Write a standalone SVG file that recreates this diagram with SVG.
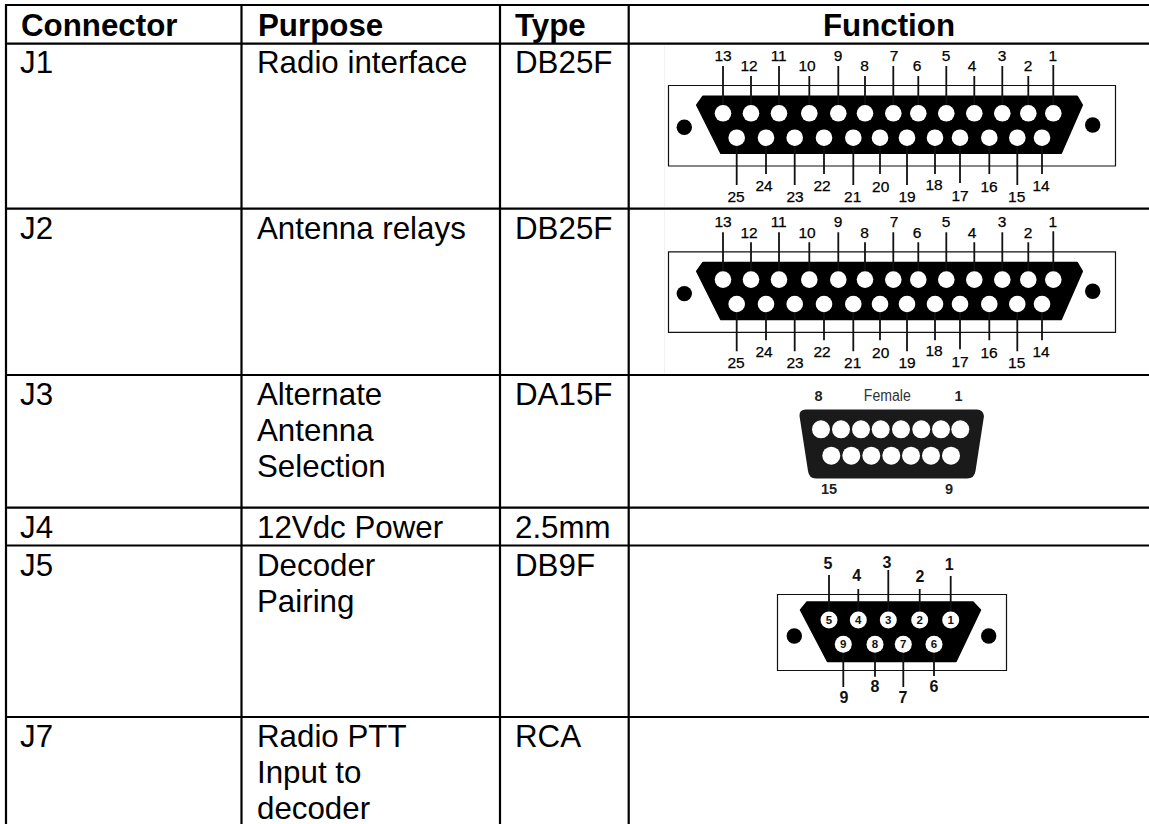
<svg xmlns="http://www.w3.org/2000/svg" width="1149" height="824" viewBox="0 0 1149 824">
<style>
text{font-family:"Liberation Sans",Arial,sans-serif;fill:#000}
.b{font-size:31.3px}
.h{font-size:31.3px;font-weight:700}
.n{font-size:15.5px;text-anchor:middle;stroke:#000;stroke-width:.25}
.m{font-size:16px;font-weight:700;text-anchor:middle;fill:#111}
.p{font-size:11.5px;font-weight:700;text-anchor:middle;fill:#111}
.f{font-size:14.5px;font-weight:700;text-anchor:middle;fill:#222}
.g{stroke:#000;stroke-width:2.2;fill:none}
.box{fill:none;stroke:#111;stroke-width:1.2}
.pl{stroke:#111;stroke-width:1.8;fill:none}
.w{fill:#fff}
.faint{stroke:#f2f2f2;stroke-width:1;fill:none}
</style>
<defs>
<g id="db25">
<path class="box" d="M668.5 85.5H1115.5V166H668.5Z"/>
<path d="M703 96.5H1077L1082 105L1061 153H721L697 105Z" fill="#000" stroke="#000" stroke-linejoin="round" stroke-width="2"/>
<circle cx="684.3" cy="127.3" r="7.7"/><circle cx="1092.7" cy="125" r="7.7"/>
<path class="pl" d="M723 66V105M751 76V105M779 66V105M809.3 76V105M838.3 66V105M865 76V105M893.3 66V105M918.3 76V105M946.3 66V105M974.3 76V105M1002.3 66V105M1028.3 76V105M1053.3 65V105M736.7 146V185M766 146V174M794.7 146V185M824 146V174M853.3 146V185M880 146V174M907 146V185M935 146V174M960 146V183M989.3 146V174M1017.3 146V185M1042 146V174"/>
<g class="w">
<circle cx="723" cy="113.3" r="8.3"/><circle cx="751" cy="113.3" r="8.3"/><circle cx="779" cy="113.3" r="8.3"/><circle cx="809.3" cy="113.3" r="8.3"/><circle cx="838.3" cy="113.3" r="8.3"/><circle cx="865" cy="113.3" r="8.3"/><circle cx="893.3" cy="113.3" r="8.3"/><circle cx="918.3" cy="113.3" r="8.3"/><circle cx="946.3" cy="113.3" r="8.3"/><circle cx="974.3" cy="113.3" r="8.3"/><circle cx="1002.3" cy="113.3" r="8.3"/><circle cx="1028.3" cy="113.3" r="8.3"/><circle cx="1053.3" cy="113.3" r="8.3"/>
<circle cx="736.7" cy="137.7" r="8.3"/><circle cx="766" cy="137.7" r="8.3"/><circle cx="794.7" cy="137.7" r="8.3"/><circle cx="824" cy="137.7" r="8.3"/><circle cx="853.3" cy="137.7" r="8.3"/><circle cx="880" cy="137.7" r="8.3"/><circle cx="907" cy="137.7" r="8.3"/><circle cx="935" cy="137.7" r="8.3"/><circle cx="960" cy="137.7" r="8.3"/><circle cx="989.3" cy="137.7" r="8.3"/><circle cx="1017.3" cy="137.7" r="8.3"/><circle cx="1042" cy="137.7" r="8.3"/>
</g>
</g>
</defs>

<g id="grid" class="g">
<path d="M6 4V824M241.5 4V824M500 4V824M628.7 4V824"/>
<path d="M5 5H1149M5 43.7H1149M5 208.7H1149M5 375H1149M5 507.7H1149M5 545.5H1149M5 717H1149"/>
</g>

<g id="header">
<text class="h" x="21" y="36">Connector</text>
<text class="h" x="258" y="36">Purpose</text>
<text class="h" x="515" y="36">Type</text>
<text class="h" x="889" y="36" text-anchor="middle">Function</text>
</g>

<g id="row-j1">
<text class="b" x="20" y="73">J1</text>
<text class="b" x="257" y="73">Radio interface</text>
<text class="b" x="515" y="73">DB25F</text>
</g>
<g id="row-j2">
<text class="b" x="20" y="239">J2</text>
<text class="b" x="257" y="239">Antenna relays</text>
<text class="b" x="515" y="239">DB25F</text>
</g>
<g id="row-j3">
<text class="b" x="20" y="405">J3</text>
<text class="b" x="257" y="405">Alternate</text>
<text class="b" x="257" y="441">Antenna</text>
<text class="b" x="257" y="477">Selection</text>
<text class="b" x="515" y="405">DA15F</text>
</g>
<g id="row-j4">
<text class="b" x="20" y="538">J4</text>
<text class="b" x="257" y="538">12Vdc Power</text>
<text class="b" x="515" y="538">2.5mm</text>
</g>
<g id="row-j5">
<text class="b" x="20" y="576">J5</text>
<text class="b" x="257" y="576">Decoder</text>
<text class="b" x="257" y="612">Pairing</text>
<text class="b" x="515" y="576">DB9F</text>
</g>
<g id="row-j7">
<text class="b" x="20" y="747">J7</text>
<text class="b" x="257" y="747">Radio PTT</text>
<text class="b" x="257" y="783">Input to</text>
<text class="b" x="257" y="819">decoder</text>
<text class="b" x="515" y="747">RCA</text>
</g>

<g id="j1-connector">
<path class="faint" d="M664.5 45V207"/>
<use href="#db25"/>
<text class="n" x="723" y="60.7">13</text><text class="n" x="749" y="71.3">12</text><text class="n" x="778.7" y="60.7">11</text><text class="n" x="807" y="71.3">10</text><text class="n" x="838" y="60.7">9</text><text class="n" x="864.5" y="71.3">8</text><text class="n" x="894" y="60.7">7</text><text class="n" x="917" y="71.3">6</text><text class="n" x="946" y="60.7">5</text><text class="n" x="972" y="71.3">4</text><text class="n" x="1002" y="60.7">3</text><text class="n" x="1028" y="71.3">2</text><text class="n" x="1052.7" y="60.7">1</text>
<text class="n" x="736" y="202">25</text><text class="n" x="764" y="191">24</text><text class="n" x="795" y="202">23</text><text class="n" x="822" y="191">22</text><text class="n" x="852.7" y="202">21</text><text class="n" x="880.7" y="192">20</text><text class="n" x="907" y="202">19</text><text class="n" x="934" y="190">18</text><text class="n" x="960" y="201">17</text><text class="n" x="989" y="192">16</text><text class="n" x="1016.7" y="202">15</text><text class="n" x="1041" y="191">14</text>
</g>

<g id="j2-connector" transform="translate(0 166.3)">
<path class="faint" d="M664.5 44V207"/>
<use href="#db25"/>
<text class="n" x="723" y="60.7">13</text><text class="n" x="749" y="71.3">12</text><text class="n" x="778.7" y="60.7">11</text><text class="n" x="807" y="71.3">10</text><text class="n" x="838" y="60.7">9</text><text class="n" x="864.5" y="71.3">8</text><text class="n" x="894" y="60.7">7</text><text class="n" x="917" y="71.3">6</text><text class="n" x="946" y="60.7">5</text><text class="n" x="972" y="71.3">4</text><text class="n" x="1002" y="60.7">3</text><text class="n" x="1028" y="71.3">2</text><text class="n" x="1052.7" y="60.7">1</text>
<text class="n" x="736" y="202">25</text><text class="n" x="764" y="191">24</text><text class="n" x="795" y="202">23</text><text class="n" x="822" y="191">22</text><text class="n" x="852.7" y="202">21</text><text class="n" x="880.7" y="192">20</text><text class="n" x="907" y="202">19</text><text class="n" x="934" y="190">18</text><text class="n" x="960" y="201">17</text><text class="n" x="989" y="192">16</text><text class="n" x="1016.7" y="202">15</text><text class="n" x="1041" y="191">14</text>
</g>

<g id="j3-connector">
<path d="M806 409.5H977Q983 409.5 984 416L975.5 471Q974.5 478.5 967 478.5H816Q809 478.5 808 471L799.5 416Q799 409.5 806 409.5Z" fill="#1a1a1a"/>
<g class="w">
<circle cx="821" cy="429.3" r="9"/><circle cx="841" cy="429.3" r="9"/><circle cx="861" cy="429.3" r="9"/><circle cx="880.7" cy="429.3" r="9"/><circle cx="901" cy="429.3" r="9"/><circle cx="921.3" cy="429.3" r="9"/><circle cx="941" cy="429.3" r="9"/><circle cx="960.3" cy="429.3" r="9"/>
<circle cx="831.3" cy="455.7" r="9"/><circle cx="851.3" cy="455.7" r="9"/><circle cx="871.3" cy="455.7" r="9"/><circle cx="891.3" cy="455.7" r="9"/><circle cx="911" cy="455.7" r="9"/><circle cx="931" cy="455.7" r="9"/><circle cx="951" cy="455.7" r="9"/>
</g>
<text class="f" x="818.5" y="400.7">8</text>
<text x="887.3" y="400.7" font-size="16" text-anchor="middle" textLength="47" lengthAdjust="spacingAndGlyphs" style="fill:#333">Female</text>
<text class="f" x="958.5" y="400.7">1</text>
<text class="f" x="829" y="494">15</text>
<text class="f" x="949" y="494">9</text>
</g>

<g id="j5-connector">
<path class="box" d="M777.5 594.5H1006.5V670.5H777.5Z"/>
<path d="M807 602H973L980.5 610L956 661.5H827.5L800.5 610Z" fill="#000" stroke="#000" stroke-width="1.5" stroke-linejoin="round"/>
<circle cx="794.3" cy="636" r="7.7"/><circle cx="988.7" cy="636" r="7.7"/>
<path class="pl" d="M829 575V612M858.3 589V612M888.3 570V612M919.7 589V612M950.7 576V612M843.3 652V687M875 652V676.7M903.3 652V687M934 652V676"/>
<g class="w">
<circle cx="829" cy="620" r="8.5"/><circle cx="858.3" cy="620" r="8.5"/><circle cx="888.3" cy="620" r="8.5"/><circle cx="919.7" cy="620" r="8.5"/><circle cx="950.7" cy="620" r="8.5"/>
<circle cx="843.3" cy="644.3" r="8.5"/><circle cx="875" cy="644.3" r="8.5"/><circle cx="903.3" cy="644.3" r="8.5"/><circle cx="934" cy="644.3" r="8.5"/>
</g>
<text class="p" x="829" y="624">5</text><text class="p" x="858.3" y="624">4</text><text class="p" x="888.3" y="624">3</text><text class="p" x="919.7" y="624">2</text><text class="p" x="950.7" y="624">1</text>
<text class="p" x="843.3" y="648.3">9</text><text class="p" x="875" y="648.3">8</text><text class="p" x="903.3" y="648.3">7</text><text class="p" x="934" y="648.3">6</text>
<text class="m" x="828" y="569.3">5</text><text class="m" x="856.7" y="581">4</text><text class="m" x="887" y="567.7">3</text><text class="m" x="920" y="582.3">2</text><text class="m" x="949.3" y="570">1</text>
<text class="m" x="844" y="703">9</text><text class="m" x="875" y="692">8</text><text class="m" x="903" y="703">7</text><text class="m" x="934" y="692">6</text>
</g>
</svg>
